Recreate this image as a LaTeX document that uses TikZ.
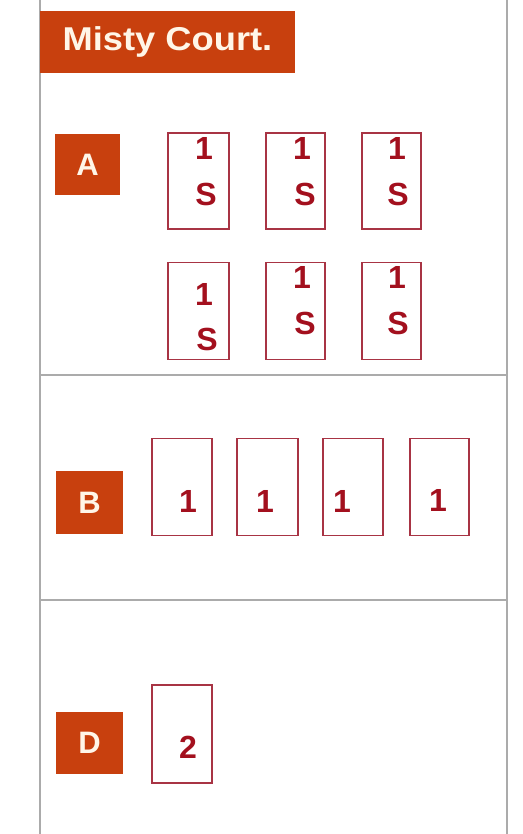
\documentclass[tikz,border=0pt]{standalone}
\usepackage{fontspec}
\setmainfont{Liberation Sans}
\definecolor{tagred}{HTML}{C8400E}
\definecolor{tagtext}{HTML}{FFF6E8}
\definecolor{digitred}{HTML}{A3101E}
\definecolor{boxred}{HTML}{A83444}
\definecolor{framegray}{HTML}{ABABAB}
\begin{document}
\begin{tikzpicture}[x=1pt,y=-1pt,
  tag/.style={fill=tagred,text=tagtext,inner sep=0pt,font=\bfseries\fontsize{31}{31}\selectfont},
  unitbox/.style={draw=boxred,line width=1.2pt,inner sep=0pt,minimum width=60pt,minimum height=97pt},
  unittext/.style={text=digitred,inner sep=0pt,font=\bfseries\fontsize{32}{32}\selectfont},
  frame/.style={draw=framegray,line width=2pt}]
\useasboundingbox (0,0) rectangle (522,834);
\fill[white] (0,0) rectangle (522,834);
% frame
\coordinate (tl) at (40,0); \coordinate (bl) at (40,834);
\coordinate (tr) at (507,0); \coordinate (br) at (507,834);
\coordinate (h1l) at (40,375); \coordinate (h1r) at (507,375);
\coordinate (h2l) at (40,600); \coordinate (h2r) at (507,600);
\draw[frame] (tl) -- (bl);
\draw[frame] (tr) -- (br);
\draw[frame] (h1l) -- (h1r);
\draw[frame] (h2l) -- (h2r);
% title
\node[tag,minimum width=255pt,minimum height=62pt,font=\bfseries\fontsize{33}{33}\selectfont] (title) at (167.5,42) {\scalebox{1.1}[1]{Misty Court.}};
% section tags
\node[tag,minimum width=65pt,minimum height=61pt] (tagA) at (87.5,164.5) {A};
\node[tag,minimum width=67pt,minimum height=63pt] (tagB) at (89.5,502.5) {B};
\node[tag,minimum width=67pt,minimum height=62pt] (tagD) at (89.5,743) {D};
% A row 1
\node[unitbox,minimum width=61pt,minimum height=96pt] (a1) at (198.5,181) {};
\node[unitbox,minimum width=59pt,minimum height=96pt] (a2) at (295.5,181) {};
\node[unitbox,minimum width=59pt,minimum height=96pt] (a3) at (391.5,181) {};
\node[unittext] (a1n) at (204,148) {1};
\node[unittext] (a1s) at (206,194) {S};
\node[unittext] (a2n) at (302,148) {1};
\node[unittext] (a2s) at (305,194) {S};
\node[unittext] (a3n) at (397,148) {1};
\node[unittext] (a3s) at (398,194) {S};
% A row 2
\node[unitbox,minimum width=61pt,minimum height=97pt] (a4) at (198.5,311) {};
\node[unitbox,minimum width=59pt,minimum height=97pt] (a5) at (295.5,311) {};
\node[unitbox,minimum width=59pt,minimum height=97pt] (a6) at (391.5,311) {};
\node[unittext] (a4n) at (204,294) {1};
\node[unittext] (a4s) at (207,339) {S};
\node[unittext] (a5n) at (302,277) {1};
\node[unittext] (a5s) at (305,323) {S};
\node[unittext] (a6n) at (397,277) {1};
\node[unittext] (a6s) at (398,323) {S};
% B row
\node[unitbox] (b1) at (182,487) {};
\node[unitbox,minimum width=61pt] (b2) at (267.5,487) {};
\node[unitbox] (b3) at (353,487) {};
\node[unitbox,minimum width=59pt] (b4) at (439.5,487) {};
\node[unittext] (b1n) at (188,501) {1};
\node[unittext] (b2n) at (265,501) {1};
\node[unittext] (b3n) at (342,501) {1};
\node[unittext] (b4n) at (438,500) {1};
% D
\node[unitbox,minimum height=98pt] (d1) at (182,734) {};
\node[unittext] (d1n) at (188,747) {2};
\end{tikzpicture}
\end{document}
